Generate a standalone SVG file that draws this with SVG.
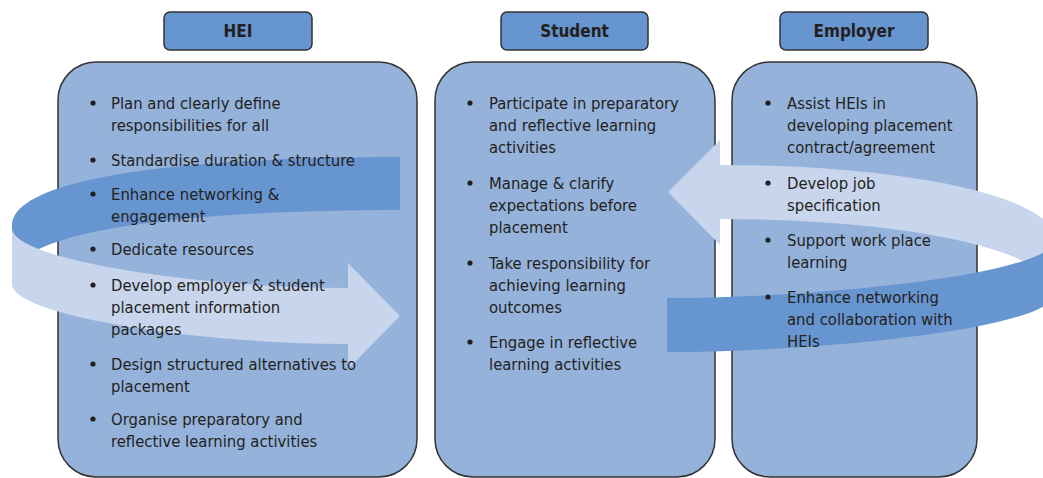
<svg xmlns="http://www.w3.org/2000/svg" width="1043" height="478" viewBox="0 0 1043 478">
  <style>
    .hdr { fill: #6795cf; stroke: #333333; stroke-width: 1.5; }
    .box { fill: #95b2db; stroke: #333333; stroke-width: 1.5; }
    .hdr-t { font-family: "Liberation Sans Narrow", "DejaVu Sans Condensed", "Liberation Sans", sans-serif; font-size: 17px; font-weight: bold; fill: #231f20; text-anchor: middle; }
    .t { font-family: "Liberation Sans Narrow", "DejaVu Sans Condensed", "Liberation Sans", sans-serif; font-size: 16.5px; fill: #231f20; }
    .dot { fill: #231f20; }
    .rib-dark { fill: #6795cf; }
    .rib-light { fill: #c8d5ec; }
  </style>
  <rect width="1043" height="478" fill="#ffffff"/>

  <!-- column frames -->
  <g id="hei">
    <rect class="hdr" x="164" y="12" width="148" height="38" rx="6"/>
    <rect class="box" x="58" y="62" width="359" height="415" rx="38"/>
  </g>
  <g id="student">
    <rect class="hdr" x="501" y="12" width="147" height="38" rx="6"/>
    <rect class="box" x="435" y="62" width="280" height="415" rx="38"/>
  </g>
  <g id="employer">
    <rect class="hdr" x="780" y="12" width="148" height="38" rx="6"/>
    <rect class="box" x="732" y="62" width="245" height="415" rx="38"/>
  </g>

  <!-- circular flow ribbons -->
  <g id="connectors">
    <!-- left loop: back band then front arrow -->
    <path class="rib-dark" d="M400,157 C200,157 12,175 12,226 L12,279 C12,228 200,210 400,210 Z"/>
    <path class="rib-light" d="M12,228 C12,260 200,288 348,288 L348,263 L400,316 L348,369 L348,344 C200,344 12,316 12,284 Z"/>
    <!-- right loop: back arrow then front band -->
    <path class="rib-light" d="M720,165 C900,165 1055,195 1055,240 L1055,294 C1055,249 900,219 720,219 L720,245 L668,192 L720,140 Z"/>
    <path class="rib-dark" d="M667,298 C820,298 1050,275 1055,240 L1055,294 C1050,329 820,352 667,352 Z"/>
  </g>

  <!-- headers -->
  <g id="hei-label"><text class="hdr-t" x="238" y="37">HEI</text></g>
  <g id="student-label"><text class="hdr-t" x="574.5" y="37">Student</text></g>
  <g id="employer-label"><text class="hdr-t" x="854" y="37">Employer</text></g>

  <!-- HEI items -->
  <g id="hei-items">
    <circle class="dot" cx="93" cy="103" r="2.6"/>
    <text class="t" x="111" y="109">Plan and clearly define</text>
    <text class="t" x="111" y="131">responsibilities for all</text>
    <circle class="dot" cx="93" cy="160" r="2.6"/>
    <text class="t" x="111" y="166">Standardise duration &amp; structure</text>
    <circle class="dot" cx="93" cy="194" r="2.6"/>
    <text class="t" x="111" y="200">Enhance networking &amp;</text>
    <text class="t" x="111" y="222">engagement</text>
    <circle class="dot" cx="93" cy="249" r="2.6"/>
    <text class="t" x="111" y="255">Dedicate resources</text>
    <circle class="dot" cx="93" cy="285" r="2.6"/>
    <text class="t" x="111" y="291">Develop employer &amp; student</text>
    <text class="t" x="111" y="313">placement information</text>
    <text class="t" x="111" y="335">packages</text>
    <circle class="dot" cx="93" cy="364" r="2.6"/>
    <text class="t" x="111" y="370">Design structured alternatives to</text>
    <text class="t" x="111" y="392">placement</text>
    <circle class="dot" cx="93" cy="419" r="2.6"/>
    <text class="t" x="111" y="425">Organise preparatory and</text>
    <text class="t" x="111" y="447">reflective learning activities</text>
  </g>

  <!-- Student items -->
  <g id="student-items">
    <circle class="dot" cx="470" cy="103" r="2.6"/>
    <text class="t" x="489" y="109">Participate in preparatory</text>
    <text class="t" x="489" y="131">and reflective learning</text>
    <text class="t" x="489" y="153">activities</text>
    <circle class="dot" cx="470" cy="183" r="2.6"/>
    <text class="t" x="489" y="189">Manage &amp; clarify</text>
    <text class="t" x="489" y="211">expectations before</text>
    <text class="t" x="489" y="233">placement</text>
    <circle class="dot" cx="470" cy="263" r="2.6"/>
    <text class="t" x="489" y="269">Take responsibility for</text>
    <text class="t" x="489" y="291">achieving learning</text>
    <text class="t" x="489" y="313">outcomes</text>
    <circle class="dot" cx="470" cy="342" r="2.6"/>
    <text class="t" x="489" y="348">Engage in reflective</text>
    <text class="t" x="489" y="370">learning activities</text>
  </g>

  <!-- Employer items -->
  <g id="employer-items">
    <circle class="dot" cx="768" cy="103" r="2.6"/>
    <text class="t" x="787" y="109">Assist HEIs in</text>
    <text class="t" x="787" y="131">developing placement</text>
    <text class="t" x="787" y="153">contract/agreement</text>
    <circle class="dot" cx="768" cy="183" r="2.6"/>
    <text class="t" x="787" y="189">Develop job</text>
    <text class="t" x="787" y="211">specification</text>
    <circle class="dot" cx="768" cy="240" r="2.6"/>
    <text class="t" x="787" y="246">Support work place</text>
    <text class="t" x="787" y="268">learning</text>
    <circle class="dot" cx="768" cy="297" r="2.6"/>
    <text class="t" x="787" y="303">Enhance networking</text>
    <text class="t" x="787" y="325">and collaboration with</text>
    <text class="t" x="787" y="347">HEIs</text>
  </g>
</svg>
